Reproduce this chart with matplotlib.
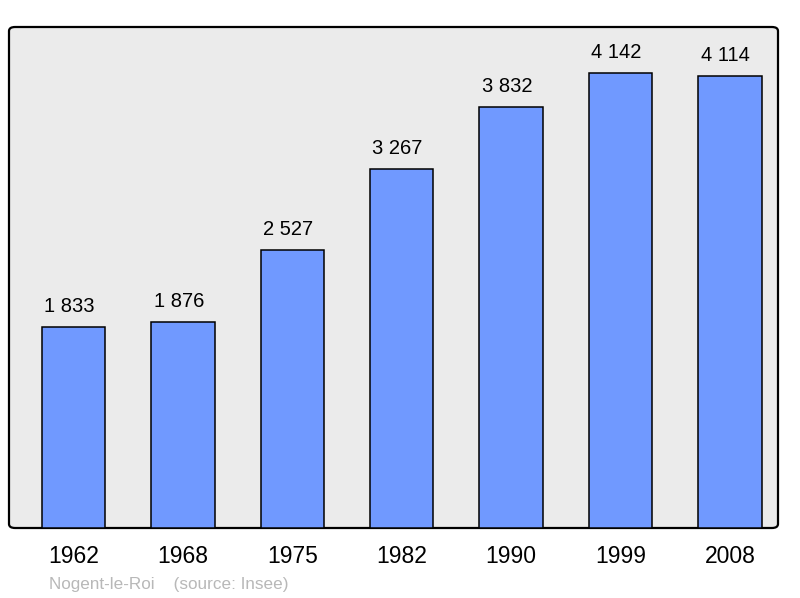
import numpy as np
import matplotlib.pyplot as plt
from matplotlib.patches import FancyBboxPatch

years = ['1962', '1968', '1975', '1982', '1990', '1999', '2008']
population = [1833, 1876, 2527, 3267, 3832, 4142, 4114]
value_labels = ['1 833', '1 876', '2 527', '3 267', '3 832', '4 142', '4 114']

plt.rcParams['font.family'] = ['Liberation Sans', 'DejaVu Sans']

fig = plt.figure(figsize=(8, 5.98), dpi=100)
ax = fig.add_axes([9/800, 70/598, 769/800, 501/598])

# gray frame with rounded corners
frame = FancyBboxPatch((0, 0), 1, 1, boxstyle='round,pad=0,rounding_size=0.008',
                       transform=ax.transAxes, facecolor='#ebebeb',
                       edgecolor='black', linewidth=1.6, zorder=0, clip_on=False)
ax.add_patch(frame)
ax.set_facecolor('none')

x = np.arange(len(years))
bars = ax.bar(x, population, width=0.58, color='#7099ff', edgecolor='black',
              linewidth=1.1, zorder=2)

for xi, v, lab in zip(x, population, value_labels):
    ax.annotate(lab, (xi, v), xytext=(-3, 8), textcoords='offset points',
                ha='center', va='bottom', fontsize=14.5, color='black')

ax.set_xlim(-0.59, 6.44)
ax.set_ylim(0, 4560)
ax.set_xticks(x)
ax.set_xticklabels(years, fontsize=16.5)
ax.tick_params(axis='x', length=0, pad=12)
ax.set_yticks([])
for s in ax.spines.values():
    s.set_visible(False)

fig.text(49/800, 1 - 584/598, 'Nogent-le-Roi    (source: Insee)', fontsize=12.3,
         color='#b8b8b8', ha='left', va='center')

fig.savefig('out.png', dpi=100)
